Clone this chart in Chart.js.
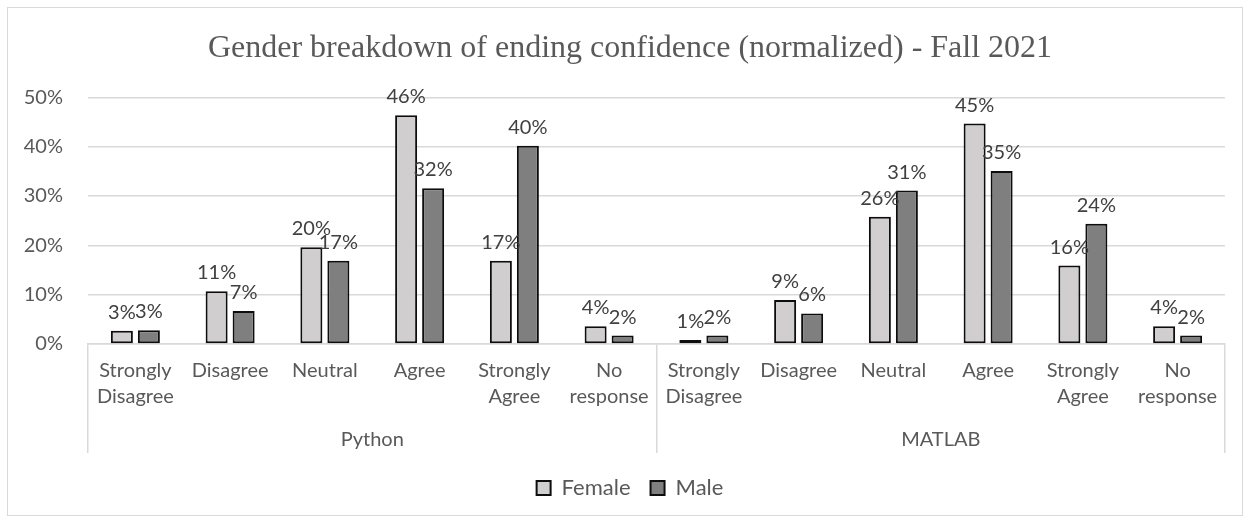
<!DOCTYPE html>
<html>
<head>
<meta charset="utf-8">
<script src="https://cdn.jsdelivr.net/npm/chart.js@4"></script>
<style>
  html, body { margin: 0; padding: 0; background: #fff; }
  #wrap { position: relative; width: 1250px; height: 523px; }
  #frame { position: absolute; left: 7px; top: 7px; width: 1234px; height: 507px;
           border: 1.5px solid #d9d9d9; pointer-events: none; }
</style>
</head>
<body>
<div id="wrap">
  <canvas id="chart" width="1250" height="523"></canvas>
  <div id="frame"></div>
</div>
<script>
// Data
const groups     = ['Python', 'MATLAB'];
const responses  = [['Strongly', 'Disagree'], 'Disagree', 'Neutral', 'Agree', ['Strongly', 'Agree'], ['No', 'response']];
const categories = [...responses, ...responses];
const femaleVals = [2.7, 10.7, 19.6, 46.4, 16.9, 3.6, 0.8, 8.9, 25.8, 44.7, 15.9, 3.6];
const maleVals   = [2.8, 6.7, 16.9, 31.6, 40.2, 1.7, 1.7, 6.2, 31.1, 35.1, 24.4, 1.7];
const yMax = 50, yStep = 10;

const grey  = '#d9d9d9';
const txt   = '#595959';
const FONT  = 'Lato, Carlito, Calibri, sans-serif';

// separators only at group edges
const edgeColor = c => (c.type === 'scale' || c.index % responses.length === 0) ? grey : 'rgba(0,0,0,0)';

// value labels above bars
const barLabels = {
  id: 'barLabels',
  afterDatasetsDraw(chart) {
    const ctx = chart.ctx;
    ctx.save();
    ctx.font = '20px ' + FONT;
    ctx.fillStyle = '#404040';
    ctx.textAlign = 'center';
    ctx.textBaseline = 'alphabetic';
    chart.data.datasets.forEach((ds, di) => {
      chart.getDatasetMeta(di).data.forEach((bar, i) => {
        ctx.fillText(Math.round(ds.data[i]) + '%', bar.x, bar.y - 12);
      });
    });
    ctx.restore();
  }
};

new Chart(document.getElementById('chart'), {
  type: 'bar',
  data: {
    labels: categories,
    datasets: [
      { label: 'Female', data: femaleVals, backgroundColor: '#d0cece', borderColor: '#0d0d0d',
        borderWidth: 2, borderSkipped: false, categoryPercentage: 0.57, barPercentage: 0.815 },
      { label: 'Male', data: maleVals, backgroundColor: '#7f7f7f', borderColor: '#0d0d0d',
        borderWidth: 2, borderSkipped: false, categoryPercentage: 0.57, barPercentage: 0.815 }
    ]
  },
  options: {
    responsive: false,
    animation: false,
    // title/legend centred a bit right of the canvas middle, like the original
    layout: { padding: { left: 0, right: -10, top: 0, bottom: 14 } },
    plugins: {
      title: {
        display: true,
        text: 'Gender breakdown of ending confidence (normalized) - Fall 2021',
        color: txt,
        font: { family: '"Liberation Serif", "Times New Roman", serif', size: 32, weight: 'normal', lineHeight: 1.2 },
        padding: { top: 29, bottom: 30 }
      },
      legend: {
        position: 'bottom',
        labels: {
          color: txt, font: { family: FONT, size: 22 },
          boxWidth: 14, boxHeight: 14, padding: 20
        }
      },
      tooltip: { enabled: false }
    },
    scales: {
      y: {
        min: 0, max: yMax,
        ticks: { stepSize: yStep, callback: v => v + '%', color: txt, font: { family: FONT, size: 20 }, padding: 25 },
        grid: { color: grey, lineWidth: 1.5, drawTicks: false },
        border: { display: false },
        afterFit: s => { s.width = 88; }
      },
      // empty spacer on the right
      yR: {
        type: 'linear', position: 'right', display: true,
        ticks: { display: false }, grid: { display: false }, border: { display: false },
        afterFit: s => { s.width = 35; }
      },
      x: {
        offset: true,
        ticks: { color: txt, font: { family: FONT, size: 20, lineHeight: 1.3 }, autoSkip: false, maxRotation: 0, padding: -56 },
        grid: { offset: true, drawOnChartArea: false, tickLength: 70, color: edgeColor, lineWidth: 1.5 },
        border: { display: true, color: grey, width: 1.5 },
        afterFit: s => { s.height = 70; }
      },
      x2: {
        type: 'category',
        labels: groups,
        position: 'bottom',
        offset: true,
        ticks: { color: txt, font: { family: FONT, size: 20 }, maxRotation: 0, padding: -25 },
        grid: { offset: true, drawOnChartArea: false, tickLength: 39, color: grey, lineWidth: 1.5 },
        border: { display: false },
        afterFit: s => { s.height = 43; }
      }
    }
  },
  plugins: [barLabels]
});
</script>
</body>
</html>
